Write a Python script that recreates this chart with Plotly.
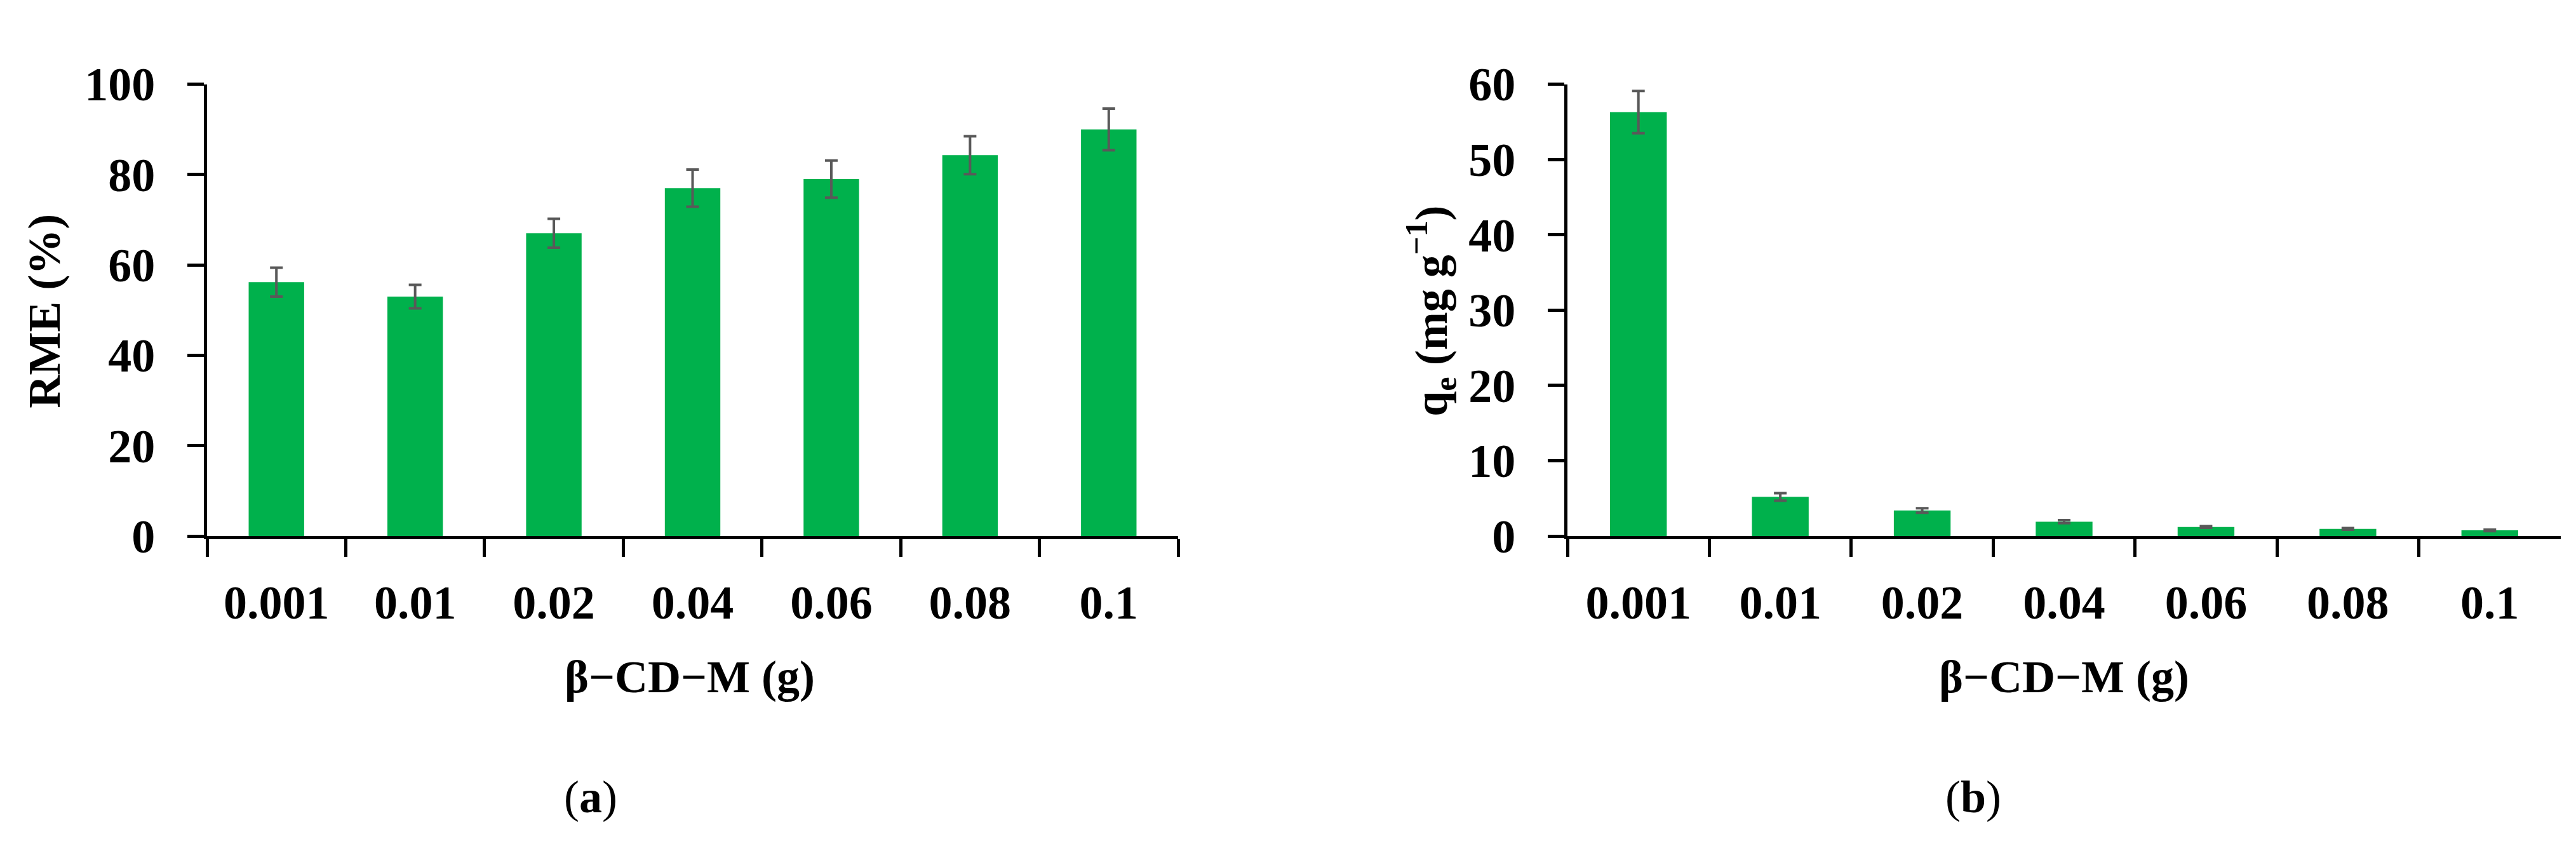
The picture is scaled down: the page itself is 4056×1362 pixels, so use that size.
import plotly.graph_objects as go

cats = ["0.001", "0.01", "0.02", "0.04", "0.06", "0.08", "0.1"]
rme = [56.2, 53.0, 67.0, 77.0, 79.0, 84.3, 90.0]
rme_err = [3.2, 2.6, 3.2, 4.1, 4.1, 4.2, 4.6]
qe = [56.3, 5.2, 3.4, 1.9, 1.2, 0.95, 0.75]
qe_err = [2.8, 0.5, 0.3, 0.2, 0.1, 0.1, 0.1]

GREEN = "#00b14c"
FONT = "Liberation Serif"
err_style = dict(type="data", thickness=4, width=10, color="#595959")

fig = go.Figure()
fig.add_trace(go.Bar(x=cats, y=rme, error_y=dict(array=rme_err, **err_style),
                     marker=dict(color=GREEN, line=dict(width=0)), xaxis="x", yaxis="y"))
fig.add_trace(go.Bar(x=cats, y=qe, error_y=dict(array=qe_err, **err_style),
                     marker=dict(color=GREEN, line=dict(width=0)), xaxis="x2", yaxis="y2"))

W, H = 4056, 1362
ydom = [1 - 847 / H, 1 - 90 / H]
tf = dict(family=FONT, size=74, color="black", weight="bold")
xcommon = dict(type="category", showline=True, linecolor="black", linewidth=5,
               ticks="outside", tickson="boundaries", ticklen=28, tickwidth=5, tickcolor="black",
               tickfont=tf, ticklabelstandoff=36,
               showgrid=False, zeroline=False)
ycommon = dict(showline=True, linecolor="black", linewidth=5, ticks="outside", ticklen=26,
               tickwidth=5, tickcolor="black", showgrid=False, zeroline=False,
               tickfont=tf, ticklabelstandoff=36)

fig.update_layout(
    width=W, height=H, showlegend=False, bargap=0.6,
    plot_bgcolor="white", paper_bgcolor="white",
    margin=dict(l=0, r=0, t=0, b=0),
    font=dict(family=FONT, color="black"),
    xaxis=dict(domain=[318 / W, 1847 / W], anchor="y", **xcommon),
    yaxis=dict(domain=ydom, range=[0, 100], dtick=20, anchor="x", **ycommon),
    xaxis2=dict(domain=[2460 / W, 4024 / W], anchor="y2", **xcommon),
    yaxis2=dict(domain=ydom, range=[0, 60], dtick=10, anchor="x2", **ycommon),
)

def ann(text, x, y, size=72, angle=0):
    fig.add_annotation(text=text, x=x / W, y=1 - y / H, xref="paper", yref="paper",
                       showarrow=False, textangle=angle, xanchor="center", yanchor="middle",
                       font=dict(family=FONT, size=size, color="black"))

ann("<b>RME (%)</b>", 62, 470, angle=-90)
ann("<b>q<sub>e</sub> (mg g<sup>−1</sup>)</b>", 2245, 470, angle=-90)
ann("<b>β−CD−M (g)</b>", 1078, 1083)
ann("<b>β−CD−M (g)</b>", 3242, 1083)
ann("(<b>a</b>)", 922, 1284)
ann("(<b>b</b>)", 3099, 1284)

fig.write_html("out.html")
